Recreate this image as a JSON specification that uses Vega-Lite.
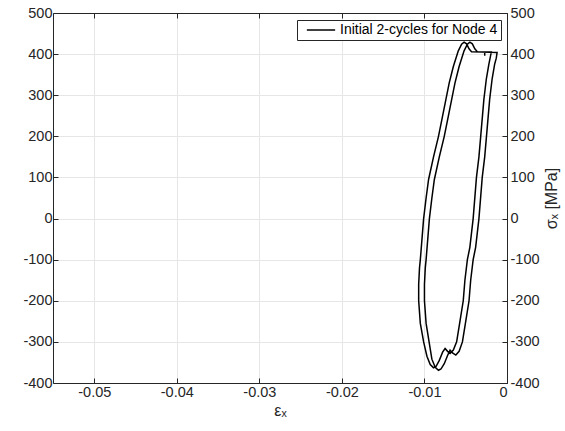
{
  "$schema": "https://vega.github.io/schema/vega-lite/v6.json",
  "width": 454,
  "height": 370,
  "autosize": {"type": "none"},
  "padding": {"left": 53, "top": 13, "right": 58, "bottom": 48},
  "background": "white",
  "config": {
    "font": "Liberation Sans",
    "view": {"stroke": null},
    "axis": {
      "domainColor": "#262626",
      "domainWidth": 1,
      "tickColor": "#262626",
      "tickSize": -5,
      "labelColor": "#262626",
      "labelFontSize": 14.5,
      "labelFont": "Liberation Sans",
      "titleFont": "Liberation Sans",
      "titleFontWeight": "normal",
      "titleColor": "#262626",
      "gridColor": "#e6e6e6",
      "gridWidth": 1
    }
  },
  "data": {
    "values": [
      {"i": 1, "strain": -0.0027, "stress": 396},
      {"i": 2, "strain": -0.0027, "stress": 405},
      {"i": 3, "strain": -0.0019, "stress": 405},
      {"i": 4, "strain": -0.0020, "stress": 395},
      {"i": 5, "strain": -0.0022, "stress": 375},
      {"i": 6, "strain": -0.0025, "stress": 340},
      {"i": 7, "strain": -0.0028, "stress": 290},
      {"i": 8, "strain": -0.0031, "stress": 220},
      {"i": 9, "strain": -0.0034, "stress": 150},
      {"i": 10, "strain": -0.0037, "stress": 100},
      {"i": 11, "strain": -0.0041, "stress": 0},
      {"i": 12, "strain": -0.0045, "stress": -70},
      {"i": 13, "strain": -0.0048, "stress": -100},
      {"i": 14, "strain": -0.0051, "stress": -150},
      {"i": 15, "strain": -0.0053, "stress": -200},
      {"i": 16, "strain": -0.0057, "stress": -250},
      {"i": 17, "strain": -0.0061, "stress": -300},
      {"i": 18, "strain": -0.0065, "stress": -320},
      {"i": 19, "strain": -0.0069, "stress": -328},
      {"i": 20, "strain": -0.0072, "stress": -323},
      {"i": 21, "strain": -0.0075, "stress": -316},
      {"i": 22, "strain": -0.0078, "stress": -325},
      {"i": 23, "strain": -0.0082, "stress": -345},
      {"i": 24, "strain": -0.0086, "stress": -360},
      {"i": 25, "strain": -0.0089, "stress": -363},
      {"i": 26, "strain": -0.0093, "stress": -355},
      {"i": 27, "strain": -0.0097, "stress": -335},
      {"i": 28, "strain": -0.0101, "stress": -300},
      {"i": 29, "strain": -0.0105, "stress": -255},
      {"i": 30, "strain": -0.0107, "stress": -200},
      {"i": 31, "strain": -0.0107, "stress": -160},
      {"i": 32, "strain": -0.0106, "stress": -120},
      {"i": 33, "strain": -0.0105, "stress": -100},
      {"i": 34, "strain": -0.0103, "stress": -50},
      {"i": 35, "strain": -0.0101, "stress": 0},
      {"i": 36, "strain": -0.0098, "stress": 50},
      {"i": 37, "strain": -0.0095, "stress": 95},
      {"i": 38, "strain": -0.0089, "stress": 150},
      {"i": 39, "strain": -0.0083, "stress": 200},
      {"i": 40, "strain": -0.0078, "stress": 250},
      {"i": 41, "strain": -0.0074, "stress": 290},
      {"i": 42, "strain": -0.0070, "stress": 330},
      {"i": 43, "strain": -0.0065, "stress": 370},
      {"i": 44, "strain": -0.0059, "stress": 408},
      {"i": 45, "strain": -0.0055, "stress": 424},
      {"i": 46, "strain": -0.0052, "stress": 429},
      {"i": 47, "strain": -0.0049, "stress": 425},
      {"i": 48, "strain": -0.0046, "stress": 413},
      {"i": 49, "strain": -0.0043, "stress": 406},
      {"i": 50, "strain": -0.0030, "stress": 405},
      {"i": 51, "strain": -0.0012, "stress": 404},
      {"i": 52, "strain": -0.0013, "stress": 390},
      {"i": 53, "strain": -0.0015, "stress": 375},
      {"i": 54, "strain": -0.0018, "stress": 340},
      {"i": 55, "strain": -0.0021, "stress": 290},
      {"i": 56, "strain": -0.0024, "stress": 220},
      {"i": 57, "strain": -0.0027, "stress": 150},
      {"i": 58, "strain": -0.0030, "stress": 100},
      {"i": 59, "strain": -0.0034, "stress": 0},
      {"i": 60, "strain": -0.0038, "stress": -70},
      {"i": 61, "strain": -0.0041, "stress": -100},
      {"i": 62, "strain": -0.0044, "stress": -150},
      {"i": 63, "strain": -0.0046, "stress": -200},
      {"i": 64, "strain": -0.0050, "stress": -250},
      {"i": 65, "strain": -0.0054, "stress": -300},
      {"i": 66, "strain": -0.0058, "stress": -323},
      {"i": 67, "strain": -0.0062, "stress": -332},
      {"i": 68, "strain": -0.0066, "stress": -327},
      {"i": 69, "strain": -0.0069, "stress": -320},
      {"i": 70, "strain": -0.0072, "stress": -333},
      {"i": 71, "strain": -0.0076, "stress": -353},
      {"i": 72, "strain": -0.0080, "stress": -366},
      {"i": 73, "strain": -0.0083, "stress": -369},
      {"i": 74, "strain": -0.0087, "stress": -362},
      {"i": 75, "strain": -0.0091, "stress": -342},
      {"i": 76, "strain": -0.0094, "stress": -305},
      {"i": 77, "strain": -0.0098, "stress": -255},
      {"i": 78, "strain": -0.0100, "stress": -200},
      {"i": 79, "strain": -0.0100, "stress": -160},
      {"i": 80, "strain": -0.0099, "stress": -120},
      {"i": 81, "strain": -0.0098, "stress": -100},
      {"i": 82, "strain": -0.0096, "stress": -50},
      {"i": 83, "strain": -0.0094, "stress": 0},
      {"i": 84, "strain": -0.0091, "stress": 50},
      {"i": 85, "strain": -0.0088, "stress": 95},
      {"i": 86, "strain": -0.0082, "stress": 150},
      {"i": 87, "strain": -0.0076, "stress": 200},
      {"i": 88, "strain": -0.0071, "stress": 250},
      {"i": 89, "strain": -0.0067, "stress": 290},
      {"i": 90, "strain": -0.0063, "stress": 330},
      {"i": 91, "strain": -0.0058, "stress": 370},
      {"i": 92, "strain": -0.0052, "stress": 408},
      {"i": 93, "strain": -0.0048, "stress": 424},
      {"i": 94, "strain": -0.0045, "stress": 429},
      {"i": 95, "strain": -0.0042, "stress": 425},
      {"i": 96, "strain": -0.0039, "stress": 413},
      {"i": 97, "strain": -0.0036, "stress": 406},
      {"i": 98, "strain": -0.0028, "stress": 405}
    ]
  },
  "layer": [
    {
      "mark": {"type": "line", "strokeWidth": 1.5, "clip": true},
      "encoding": {
        "x": {
          "field": "strain",
          "type": "quantitative",
          "scale": {"domain": [-0.055, 0], "nice": false, "zero": false},
          "axis": {
            "orient": "bottom",
            "values": [-0.05, -0.04, -0.03, -0.02, -0.01, 0],
            "labelExpr": "'' + datum.value",
            "grid": true,
            "title": "εₓ",
            "titleFontSize": 16,
            "titlePadding": 4,
            "labelPadding": 7
          }
        },
        "y": {
          "field": "stress",
          "type": "quantitative",
          "scale": {"domain": [-400, 500], "nice": false, "zero": false},
          "axis": {
            "orient": "left",
            "values": [-400, -300, -200, -100, 0, 100, 200, 300, 400, 500],
            "labelExpr": "'' + datum.value",
            "grid": true,
            "title": null,
            "labelPadding": 6
          }
        },
        "order": {"field": "i", "type": "quantitative"},
        "color": {
          "datum": "Initial 2-cycles for Node 4",
          "type": "nominal",
          "scale": {"range": ["black"]},
          "legend": {
            "title": null,
            "orient": "none",
            "legendX": 244,
            "legendY": 7,
            "symbolType": "stroke",
            "symbolSize": 800,
            "symbolStrokeWidth": 1.5,
            "symbolOffset": 6,
            "labelFontSize": 14,
            "labelColor": "#000000",
            "labelFont": "Liberation Sans",
            "strokeColor": "#262626",
            "fillColor": "white",
            "padding": 3,
            "clipHeight": 14
          }
        }
      }
    },
    {
      "mark": {"type": "line", "opacity": 0},
      "encoding": {
        "x": {
          "field": "strain",
          "type": "quantitative",
          "scale": {"domain": [-0.055, 0], "nice": false, "zero": false},
          "axis": {
            "orient": "top",
            "values": [-0.05, -0.04, -0.03, -0.02, -0.01, 0],
            "labels": false,
            "grid": false,
            "title": null
          }
        },
        "y": {
          "field": "stress",
          "type": "quantitative",
          "scale": {"domain": [-400, 500], "nice": false, "zero": false},
          "axis": {
            "orient": "right",
            "values": [-400, -300, -200, -100, 0, 100, 200, 300, 400, 500],
            "labelExpr": "'' + datum.value",
            "grid": false,
            "title": "σₓ [MPa]",
            "titleFontSize": 16,
            "titleAngle": 270,
            "titleBaseline": "top",
            "titlePadding": 4,
            "labelPadding": 8
          }
        },
        "order": {"field": "i", "type": "quantitative"}
      }
    }
  ],
  "resolve": {"axis": {"x": "independent", "y": "independent"}}
}
